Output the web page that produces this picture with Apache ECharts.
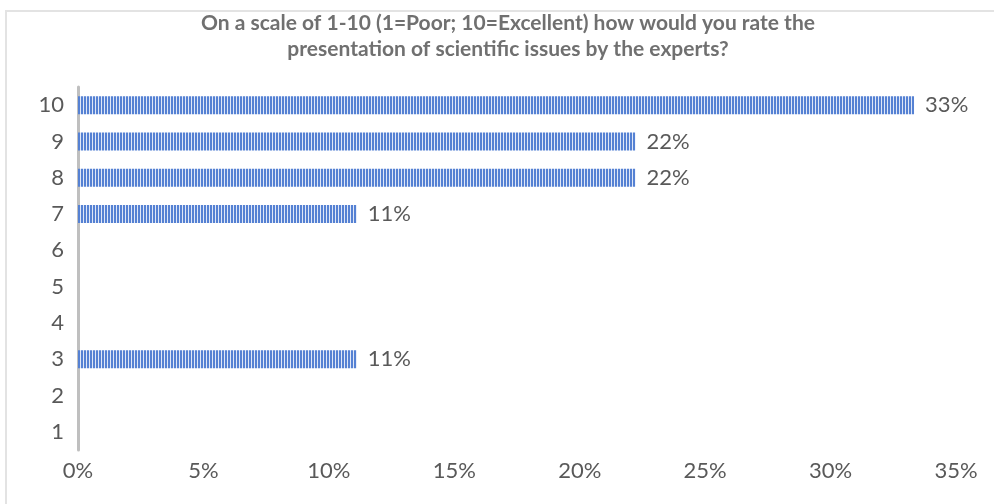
<!DOCTYPE html>
<html>
<head>
<meta charset="utf-8">
<script src="https://cdn.jsdelivr.net/npm/echarts@6/dist/echarts.min.js"></script>
<style>
  html, body { margin: 0; padding: 0; background: #fff; }
  #frame {
    position: absolute; left: 5px; top: 10px; width: 1000px; height: 500px;
    border-left: 2px solid #e3e3e3; border-top: 2px solid #e3e3e3;
  }
  #chart { position: absolute; left: 0; top: 0; width: 994px; height: 504px; }
</style>
</head>
<body>
<div id="frame"></div>
<div id="chart"></div>
<script>
  // ratings 1..10, share of respondents (%)
  var categories = ['1', '2', '3', '4', '5', '6', '7', '8', '9', '10'];
  var values = [0, 0, 11.11, 0, 0, 0, 11.11, 22.22, 22.22, 33.33];
  var xTicks = [0, 5, 10, 15, 20, 25, 30, 35];

  // vertical stripe fill like the original bars
  function stripes() {
    var c = document.createElement('canvas');
    c.width = 3; c.height = 4;
    var ctx = c.getContext('2d');
    ctx.fillStyle = '#dfe7f7';
    ctx.fillRect(0, 0, 3, 4);
    ctx.fillStyle = '#5581d3';
    ctx.fillRect(0, 0, 2, 4);
    return c;
  }

  var chart = echarts.init(document.getElementById('chart'));
  var option = {
    animation: false,
    title: {
      text: 'On a scale of 1-10 (1=Poor; 10=Excellent) how would you rate the\npresentation of scientific issues by the experts?',
      left: 508,
      top: 10,
      padding: 0,
      textAlign: 'center',
      textStyle: {
        fontFamily: 'Lato',
        fontSize: 21,
        fontWeight: 'bold',
        color: '#707070',
        lineHeight: 26
      }
    },
    grid: {
      left: 78,
      right: 38,
      top: 87,
      bottom: 54
    },
    xAxis: {
      type: 'value',
      min: xTicks[0],
      max: xTicks[xTicks.length - 1],
      interval: 5,
      splitLine: { show: false },
      axisLine: { show: false },
      axisTick: { show: false },
      axisLabel: {
        formatter: '{value}%',
        fontFamily: 'Lato',
        fontSize: 22,
        color: '#595959',
        margin: 10
      }
    },
    yAxis: {
      type: 'category',
      data: categories,
      axisLine: { show: true, lineStyle: { color: '#bfbfbf', width: 3 } },
      axisTick: { show: false },
      axisLabel: {
        fontFamily: 'Lato',
        fontSize: 22,
        color: '#595959',
        margin: 14
      }
    },
    series: [{
      type: 'bar',
      data: values,
      barWidth: 18,
      itemStyle: { color: { image: stripes(), repetition: 'repeat' } },
      label: {
        show: true,
        position: 'right',
        distance: 11,
        fontFamily: 'Lato',
        fontSize: 22,
        color: '#595959',
        formatter: function (p) { return p.value > 0 ? Math.round(p.value) + '%' : ''; }
      }
    }]
  };
  chart.setOption(option);
</script>
</body>
</html>
